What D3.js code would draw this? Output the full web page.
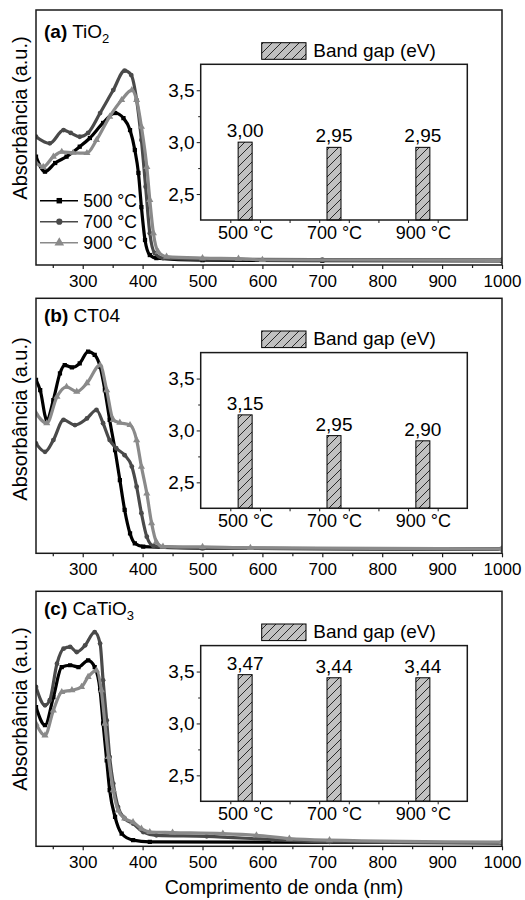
<!DOCTYPE html>
<html><head><meta charset="utf-8">
<script src="https://cdn.jsdelivr.net/npm/d3@7"></script>
<style>
body{margin:0;background:#fff}
svg{display:block}
text{font-family:"Liberation Sans",Arial,Helvetica,sans-serif;fill:#000}
</style>
</head><body><div id="chart"></div>
<script>
// ---------- DATA ----------
const temps = ["500 °C", "700 °C", "900 °C"];
const xTicks = [300, 400, 500, 600, 700, 800, 900, 1000];
const xMinorTicks = [250, 350, 450, 550, 650, 750, 850, 950];
const gapTicks = [2.5, 3.0, 3.5];
const gapMinorTicks = [2.75, 3.25];

// Panel (a) TiO2 : [wavelength nm, absorbance a.u.]
const a500 = [[222,42.5],[237,36.6],[254,40.0],[273,42.5],[295,46.4],[312,49.8],[334,55.7],[354,59.6],[368,57.6],[379,52.9],[387,45.1],[393,36.1],[398,22.7],[404,9.8],[412,3.9],[423,2.7],[500,1.9],[700,1.7],[1000,1.6]];
const a700 = [[222,50.3],[245,47.7],[268,52.9],[280,51.8],[295,50.3],[309,51.8],[329,59.6],[351,68.6],[370,76.2],[381,74.5],[390,64.7],[398,49.0],[405,30.7],[412,12.5],[420,4.7],[434,2.7],[500,2.3],[700,2.1],[1000,2.0]];
const a900 = [[222,40.0],[234,38.5],[251,42.5],[265,44.4],[284,44.0],[307,43.9],[323,49.0],[345,58.2],[365,64.7],[382,68.6],[390,64.7],[398,54.2],[407,38.5],[412,25.5],[418,12.5],[426,5.2],[440,3.3],[500,2.7],[560,2.5],[600,2.0],[1000,1.8]];

// Panel (b) CT04
const b500 = [[222,68.0],[229,64.0],[240,52.3],[251,60.1],[262,70.6],[270,73.8],[282,72.9],[295,74.5],[309,79.1],[320,77.8],[329,73.2],[337,64.0],[345,52.3],[354,40.5],[362,28.7],[370,17.0],[379,7.8],[387,3.9],[401,2.6],[500,2.0],[1000,1.7]];
const b700 = [[222,43.1],[237,39.8],[251,44.4],[268,52.3],[287,50.3],[307,52.9],[323,56.2],[334,51.0],[345,44.4],[356,41.2],[370,38.5],[382,34.0],[390,26.1],[398,15.7],[407,6.5],[418,2.9],[500,2.0],[1000,1.5]];
const b900 = [[222,54.9],[240,51.0],[257,61.4],[273,65.3],[290,63.4],[307,66.7],[329,73.8],[340,64.0],[351,52.3],[362,51.2],[379,50.3],[390,44.4],[398,34.0],[407,23.5],[415,11.8],[423,4.5],[434,2.6],[500,2.5],[580,2.1],[1000,1.7]];

// Panel (c) CaTiO3
const c500 = [[222,54.6],[237,47.5],[251,58.5],[265,70.3],[279,71.0],[293,70.3],[309,72.9],[320,70.3],[329,61.2],[334,48.2],[340,33.7],[345,22.0],[354,11.5],[365,5.0],[384,2.4],[412,1.7],[1000,1.4]];
const c700 = [[222,62.5],[237,55.3],[245,57.3],[257,71.6],[268,77.5],[279,78.2],[290,76.2],[304,78.8],[320,84.0],[329,79.5],[334,65.1],[340,49.4],[345,35.0],[351,24.6],[359,15.4],[370,10.9],[384,8.9],[401,5.6],[423,4.3],[507,3.9],[617,2.6],[712,1.7],[1000,1.2]];
const c900 = [[222,48.1],[237,43.5],[251,53.3],[265,60.5],[282,61.2],[298,62.5],[309,66.4],[323,69.0],[331,61.2],[337,48.1],[343,35.0],[351,22.0],[359,14.1],[370,10.9],[384,9.5],[398,6.9],[412,5.6],[450,5.4],[534,5.0],[590,4.3],[645,3.0],[712,2.4],[1000,1.6]];

// Band gaps (eV)
const gapA = [3.00, 2.95, 2.95];
const gapB = [3.15, 2.95, 2.90];
const gapC = [3.47, 3.44, 3.44];

// ---------- STYLE / LAYOUT ----------
const W = 525, H = 900;
const colors = ["#000000", "#4a4a4a", "#8a8a8a"];
const markers = [d3.symbolSquare, d3.symbolCircle, d3.symbolTriangle];
const xL = 36, xR = 502, PH = 255;
const frameColor = "#1a1a1a";

const panels = [
  {top: 10,  bold: "(a)", name: "TiO", sub: "2", titleY: 37.7, yTitleC: 118, series: [a500, a700, a900], gaps: gapA, legend: true},
  {top: 298.3, bold: "(b)", name: "CT04", sub: "", titleY: 321.7, yTitleC: 419, series: [b500, b700, b900], gaps: gapB, legend: false},
  {top: 591.3, bold: "(c)", name: "CaTiO", sub: "3", titleY: 615, yTitleC: 709, series: [c500, c700, c900], gaps: gapC, legend: false}
];

const svg = d3.select("#chart").append("svg").attr("width", W).attr("height", H);
const defs = svg.append("defs");
const pat = defs.append("pattern").attr("id", "hatch")
  .attr("patternUnits", "userSpaceOnUse").attr("width", 9).attr("height", 9);
pat.append("rect").attr("width", 9).attr("height", 9).attr("fill", "#c0c0c0");
pat.append("path").attr("d", "M-2,2 L2,-2 M0,9 L9,0 M7,11 L11,7")
  .attr("stroke", "#000").attr("stroke-width", 0.8);

const x = d3.scaleLinear().domain([222, 1000]).range([xL, xR]);
const fmtComma = (f) => (d) => d3.format(f)(d).replace(".", ",");

panels.forEach((p, pi) => {
  const g = svg.append("g");
  const bottom = p.top + PH;
  const y = d3.scaleLinear().domain([0, 100]).range([bottom, p.top]);

  const clipId = "clip" + pi;
  defs.append("clipPath").attr("id", clipId).append("rect")
    .attr("x", xL).attr("y", p.top).attr("width", xR - xL).attr("height", PH);

  const plot = g.append("g").attr("clip-path", `url(#${clipId})`);
  const line = d3.line().x(d => x(d[0])).y(d => y(d[1])).curve(d3.curveMonotoneX);

  p.series.forEach((s, si) => {
    plot.append("path").datum(s).attr("d", line)
      .attr("fill", "none").attr("stroke", colors[si]).attr("stroke-width", 3.2)
      .attr("stroke-linejoin", "round");
    plot.selectAll(null).data(s).enter().append("path")
      .attr("d", d3.symbol().type(markers[si]).size(si === 2 ? 22 : 18))
      .attr("transform", d => `translate(${x(d[0])},${y(d[1])})`)
      .attr("fill", colors[si]);
  });

  // frame
  g.append("rect").attr("x", xL).attr("y", p.top).attr("width", xR - xL).attr("height", PH)
    .attr("fill", "none").attr("stroke", frameColor).attr("stroke-width", 1.5);

  // x axis
  const ax = g.append("g").attr("transform", `translate(0,${bottom})`)
    .call(d3.axisBottom(x).tickValues(xTicks).tickSize(4).tickPadding(5.5).tickFormat(d3.format("d")));
  ax.select(".domain").remove();
  ax.selectAll("line").attr("stroke", frameColor).attr("stroke-width", 1.2);
  ax.selectAll("text").attr("font-size", 17).attr("font-family", null);
  const axm = g.append("g").attr("transform", `translate(0,${bottom})`)
    .call(d3.axisBottom(x).tickValues(xMinorTicks).tickSize(3).tickFormat(""));
  axm.select(".domain").remove();
  axm.selectAll("line").attr("stroke", frameColor).attr("stroke-width", 1.2);

  // y title
  g.append("text").attr("transform", `translate(26.5,${p.yTitleC}) rotate(-90)`)
    .attr("text-anchor", "middle").attr("font-size", 20).text("Absorbância (a.u.)");

  // panel title
  const t = g.append("text").attr("x", 44).attr("y", p.titleY).attr("font-size", 19);
  t.append("tspan").attr("font-weight", "bold").text(p.bold);
  t.append("tspan").text(" " + p.name);
  if (p.sub) t.append("tspan").attr("font-size", 13).attr("dy", 5).text(p.sub);

  // legend (panel a)
  if (p.legend) {
    const ly = [200.7, 221.7, 242.7];
    temps.forEach((tt, i) => {
      g.append("line").attr("x1", 40).attr("x2", 78).attr("y1", ly[i]).attr("y2", ly[i])
        .attr("stroke", colors[i]).attr("stroke-width", 1.6);
      g.append("path").attr("d", d3.symbol().type(markers[i]).size(i === 2 ? 40 : 30))
        .attr("transform", `translate(59.3,${ly[i]})`).attr("fill", colors[i]);
      g.append("text").attr("x", 83.3).attr("y", ly[i]).attr("dy", "0.36em")
        .attr("font-size", 17.5).text(tt);
    });
  }

  // ---------- inset ----------
  const ix0 = 200.7, iw = 266.6, itop = p.top + 54.3, ih = 155.7;
  const xb = d3.scalePoint().domain(temps).range([ix0, ix0 + iw]).padding(0.5);
  const yb = d3.scaleLinear().domain([2.25, 3.75]).range([itop + ih, itop]);
  const bw = 14;
  const ig = g.append("g");
  ig.append("rect").attr("x", ix0).attr("y", itop).attr("width", iw).attr("height", ih).attr("fill", "#fff");
  ig.selectAll(".bar").data(p.gaps).enter().append("rect")
    .attr("x", (d, i) => xb(temps[i]) - bw / 2).attr("y", d => yb(d))
    .attr("width", bw).attr("height", d => yb(2.25) - yb(d))
    .attr("fill", "url(#hatch)").attr("stroke", "#000").attr("stroke-width", 1);
  ig.selectAll(".val").data(p.gaps).enter().append("text")
    .attr("x", (d, i) => xb(temps[i])).attr("y", d => yb(d) - 5)
    .attr("text-anchor", "middle").attr("font-size", 19).text(fmtComma(".2f"));
  ig.append("rect").attr("x", ix0).attr("y", itop).attr("width", iw).attr("height", ih)
    .attr("fill", "none").attr("stroke", frameColor).attr("stroke-width", 1.5);

  const ay = ig.append("g").attr("transform", `translate(${ix0},0)`)
    .call(d3.axisLeft(yb).tickValues(gapTicks).tickSize(4).tickPadding(2).tickFormat(fmtComma(".1f")));
  ay.select(".domain").remove();
  ay.selectAll("line").attr("stroke", frameColor);
  ay.selectAll("text").attr("font-size", 19).attr("font-family", null);
  const aym = ig.append("g").attr("transform", `translate(${ix0},0)`)
    .call(d3.axisLeft(yb).tickValues(gapMinorTicks).tickSize(2.5).tickFormat(""));
  aym.select(".domain").remove();
  aym.selectAll("line").attr("stroke", frameColor);

  const axb = ig.append("g").attr("transform", `translate(0,${itop + ih})`)
    .call(d3.axisBottom(xb).tickSize(0).tickPadding(6));
  axb.select(".domain").remove();
  axb.selectAll("text").attr("font-size", 18).attr("font-family", null);
  const mx = d3.scaleLinear().domain([0, 9]).range([ix0, ix0 + iw]);
  const axbm = ig.append("g").attr("transform", `translate(0,${itop + ih})`)
    .call(d3.axisBottom(mx).tickValues([1, 2, 3, 4, 5, 6, 7, 8]).tickSize(3).tickFormat(""));
  axbm.select(".domain").remove();
  axbm.selectAll("line").attr("stroke", frameColor);

  // inset legend
  ig.append("rect").attr("x", 261.7).attr("y", p.top + 32.7).attr("width", 44.3).attr("height", 16.6)
    .attr("fill", "url(#hatch)").attr("stroke", "#000").attr("stroke-width", 1);
  ig.append("text").attr("x", 313.3).attr("y", p.top + 47).attr("font-size", 19).text("Band gap (eV)");
});

svg.append("text").attr("x", 284).attr("y", 893.5).attr("text-anchor", "middle")
  .attr("font-size", 19.5).text("Comprimento de onda (nm)");
</script>
</body></html>
